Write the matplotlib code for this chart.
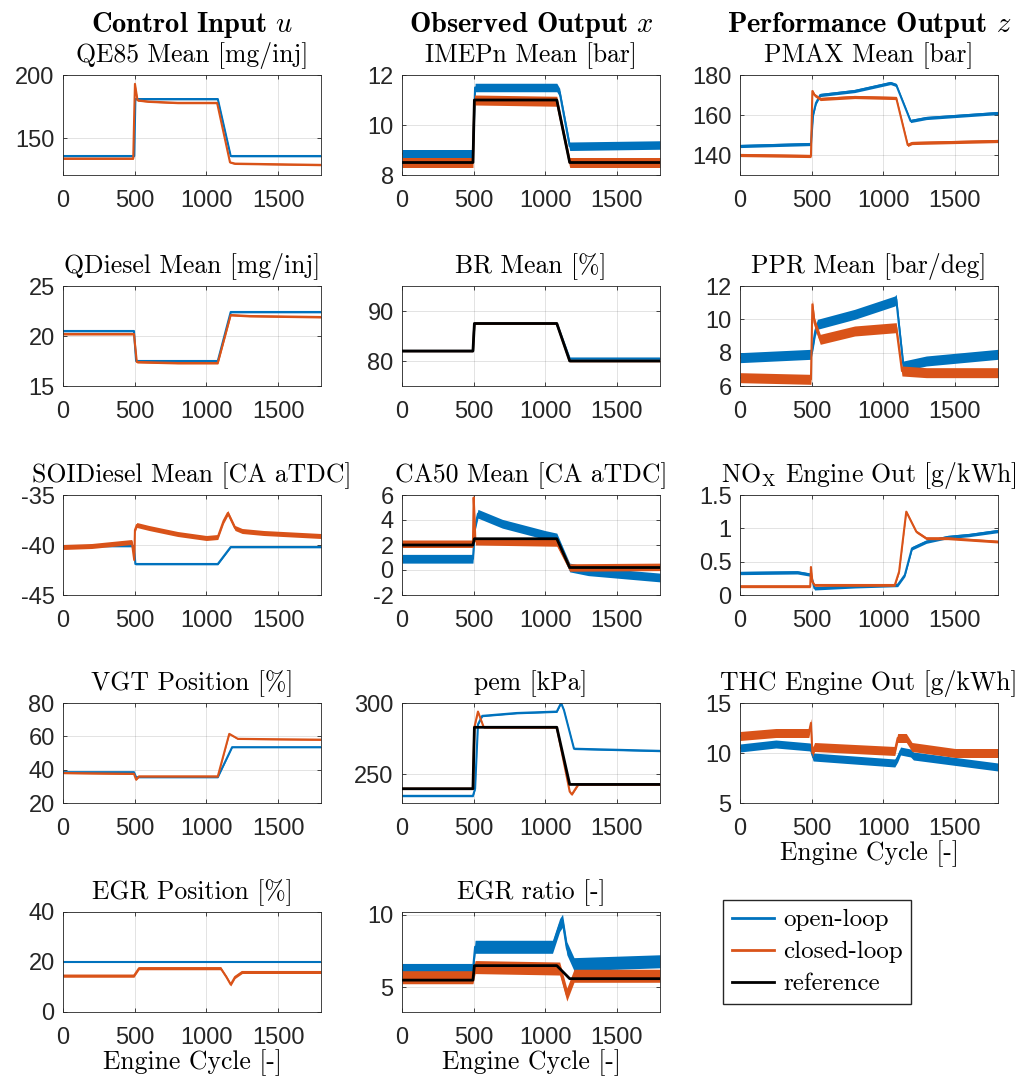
"""Open-loop vs closed-loop engine test: 14 time-series panels."""

import matplotlib
matplotlib.use('Agg')
import matplotlib.pyplot as plt
from matplotlib.lines import Line2D

plt.rcParams['mathtext.fontset'] = 'cm'
plt.rcParams['axes.unicode_minus'] = False
plt.rcParams['font.family'] = ['Liberation Sans', 'DejaVu Sans']

BLUE = '#0072BD'
ORANGE = '#D95319'

# ---- data (cycle knots, values, noise band half-width) ----
ref_x = [0, 495, 505, 1080, 1170, 1800]

# QE85 Mean
qe85_ol_x = [0, 497, 505, 1080, 1170, 1800]
qe85_ol = [136, 136, 181, 181, 136, 136]
qe85_cl_x = [0, 490, 497, 502, 520, 600, 800, 1075, 1165, 1200, 1500, 1800]
qe85_cl = [134, 134, 170, 193, 180, 179, 178, 178, 131, 130, 129.5, 129]

# IMEPn Mean
imep_ref = [8.5, 8.5, 11.0, 11.0, 8.5, 8.5]
imep_ol_x = [0, 495, 510, 1080, 1100, 1170, 1800]
imep_ol = [8.85, 8.85, 11.5, 11.5, 11.3, 9.15, 9.2]
imep_cl_x = [0, 495, 505, 1080, 1170, 1800]
imep_cl = [8.5, 8.5, 11.0, 10.95, 8.5, 8.5]

# PMAX Mean
pmax_ol_x = [0, 495, 510, 530, 560, 800, 1050, 1090, 1190, 1300, 1800]
pmax_ol = [144.5, 145.5, 160, 166, 170, 172, 176, 175, 157, 158.5, 161]
pmax_cl_x = [0, 495, 505, 520, 560, 800, 1090, 1170, 1200, 1800]
pmax_cl = [140, 139.5, 172, 170, 168, 169, 168.5, 145, 146, 147]

# QDiesel Mean
qd_ol_x = [0, 495, 510, 1080, 1170, 1800]
qd_ol = [20.5, 20.5, 17.5, 17.5, 22.4, 22.4]
qd_cl_x = [0, 495, 515, 800, 1080, 1170, 1300, 1800]
qd_cl = [20.2, 20.2, 17.4, 17.3, 17.3, 22.1, 22.0, 21.9]

# BR Mean
br_ref = [82, 82, 87.5, 87.5, 80, 80]
br_ol = [82, 82, 87.5, 87.5, 80.5, 80.5]
br_cl = [82, 82, 87.5, 87.5, 80, 80]

# PPR Mean
ppr_ol_x = [0, 495, 510, 525, 540, 800, 1080, 1090, 1140, 1300, 1800]
ppr_ol = [7.7, 7.9, 8.5, 9.3, 9.7, 10.3, 11.1, 11.2, 7.2, 7.5, 7.9]
ppr_cl_x = [0, 495, 505, 520, 560, 800, 1090, 1130, 1300, 1800]
ppr_cl = [6.5, 6.4, 10.9, 9.8, 8.8, 9.3, 9.5, 6.9, 6.8, 6.8]

# SOIDiesel Mean
soi_ol_x = [0, 495, 505, 1080, 1170, 1800]
soi_ol = [-40.1, -40.1, -41.9, -41.9, -40.2, -40.2]
soi_cl_x = [0, 200, 480, 497, 502, 515, 600, 800, 1000, 1080, 1120, 1150,
            1200, 1250, 1400, 1800]
soi_cl = [-40.2, -40.1, -39.7, -41.5, -38.5, -38.0, -38.3, -38.9, -39.3,
          -39.2, -37.6, -36.8, -38.3, -38.6, -38.8, -39.1]

# CA50 Mean
ca50_ref = [2.0, 2.0, 2.5, 2.5, 0.2, 0.2]
ca50_ol_x = [0, 495, 510, 530, 700, 1000, 1080, 1170, 1300, 1800]
ca50_ol = [0.9, 0.9, 3.5, 4.5, 3.7, 2.8, 2.6, 0.2, -0.1, -0.6]
ca50_cl_x = [0, 495, 500, 505, 512, 1080, 1170, 1800]
ca50_cl = [2.1, 2.1, 5.8, 4.5, 2.3, 2.2, 0.2, 0.25]

# NOx engine out
nox_ol_x = [0, 400, 480, 495, 520, 800, 1100, 1150, 1200, 1300, 1450, 1600, 1800]
nox_ol = [0.33, 0.34, 0.31, 0.30, 0.10, 0.13, 0.15, 0.30, 0.70, 0.80, 0.87, 0.90, 0.96]
nox_cl_x = [0, 490, 495, 505, 520, 1080, 1110, 1160, 1230, 1300, 1450, 1800]
nox_cl = [0.13, 0.13, 0.42, 0.20, 0.15, 0.15, 0.35, 1.25, 0.95, 0.85, 0.85, 0.80]

# VGT Position
vgt_ol_x = [0, 495, 510, 1080, 1180, 1800]
vgt_ol = [38.5, 38.5, 35.5, 35.5, 53.5, 53.5]
vgt_cl_x = [0, 495, 510, 530, 1080, 1160, 1220, 1800]
vgt_cl = [38, 37.5, 34, 36, 36, 61.5, 58.5, 58]

# pem
pem_ref = [240, 240, 283, 283, 243, 243]
pem_ol_x = [0, 495, 510, 530, 560, 800, 1080, 1110, 1130, 1200, 1800]
pem_ol = [235, 235, 240, 285, 291, 293, 294, 300, 295, 268, 266.5]
pem_cl_x = [0, 495, 505, 530, 570, 1080, 1170, 1185, 1230, 1800]
pem_cl = [240, 240, 283, 294, 283, 283, 238, 236, 243, 243]

# THC engine out
thc_ol_x = [0, 250, 490, 510, 1080, 1100, 1120, 1190, 1210, 1800]
thc_ol = [10.5, 10.9, 10.6, 9.6, 9.0, 9.5, 10.2, 10.0, 9.7, 8.6]
thc_cl_x = [0, 250, 480, 495, 505, 520, 1080, 1100, 1160, 1200, 1500, 1800]
thc_cl = [11.7, 12.0, 12.0, 13.0, 10.0, 10.6, 10.2, 11.5, 11.5, 10.6, 10.0, 10.0]

# EGR Position
egrp_ol_x = [0, 1800]
egrp_ol = [20, 20]
egrp_cl_x = [0, 495, 530, 1100, 1140, 1170, 1200, 1250, 1800]
egrp_cl = [14.5, 14.5, 17.5, 17.5, 14, 11, 14, 16, 16]

# EGR ratio
egrr_ref = [5.5, 5.5, 6.5, 6.5, 5.6, 5.6]
egrr_ol_x = [0, 495, 510, 1050, 1100, 1120, 1150, 1200, 1800]
egrr_ol = [6.2, 6.2, 7.8, 7.8, 9.3, 9.6, 7.7, 6.6, 6.8]
egrr_cl_x = [0, 495, 510, 1100, 1150, 1200, 1800]
egrr_cl = [5.7, 5.7, 6.4, 6.3, 4.5, 5.8, 5.8]

# (col, row, title, ylim, yticks, open-loop, closed-loop, reference)
panels = [
    (0, 0, 'QE85 Mean [mg/inj]', (121, 200), [150, 200],
     (qe85_ol_x, qe85_ol, 0.6), (qe85_cl_x, qe85_cl, 0.7), None),
    (0, 1, 'QDiesel Mean [mg/inj]', (15, 25), [15, 20, 25],
     (qd_ol_x, qd_ol, 0.08), (qd_cl_x, qd_cl, 0.1), None),
    (0, 2, 'SOIDiesel Mean [CA aTDC]', (-45, -35), [-45, -40, -35],
     (soi_ol_x, soi_ol, 0.08), (soi_cl_x, soi_cl, 0.25), None),
    (0, 3, 'VGT Position [%]', (20, 80), [20, 40, 60, 80],
     (vgt_ol_x, vgt_ol, 0.3), (vgt_cl_x, vgt_cl, 0.4), None),
    (0, 4, 'EGR Position [%]', (0, 40), [0, 20, 40],
     (egrp_ol_x, egrp_ol, 0.15), (egrp_cl_x, egrp_cl, 0.6), None),
    (1, 0, 'IMEPn Mean [bar]', (8, 12), [8, 10, 12],
     (imep_ol_x, imep_ol, 0.17), (imep_cl_x, imep_cl, 0.2), imep_ref),
    (1, 1, 'BR Mean [%]', (75, 95), [80, 90],
     (ref_x, br_ol, 0.15), (ref_x, br_cl, 0.15), br_ref),
    (1, 2, 'CA50 Mean [CA aTDC]', (-2, 6), [-2, 0, 2, 4, 6],
     (ca50_ol_x, ca50_ol, 0.35), (ca50_cl_x, ca50_cl, 0.3), ca50_ref),
    (1, 3, 'pem [kPa]', (230, 300), [250, 300],
     (pem_ol_x, pem_ol, 0.6), (pem_cl_x, pem_cl, 0.6), pem_ref),
    (1, 4, 'EGR ratio [-]', (3.3, 10.2), [5, 10],
     (egrr_ol_x, egrr_ol, 0.45), (egrr_cl_x, egrr_cl, 0.45), egrr_ref),
    (2, 0, 'PMAX Mean [bar]', (130, 180), [140, 160, 180],
     (pmax_ol_x, pmax_ol, 0.8), (pmax_cl_x, pmax_cl, 0.8), None),
    (2, 1, 'PPR Mean [bar/deg]', (6, 12), [6, 8, 10, 12],
     (ppr_ol_x, ppr_ol, 0.3), (ppr_cl_x, ppr_cl, 0.3), None),
    (2, 2, r'NO$_\mathrm{X}$ Engine Out [g/kWh]', (0, 1.5), [0, 0.5, 1, 1.5],
     (nox_ol_x, nox_ol, 0.025), (nox_cl_x, nox_cl, 0.02), None),
    (2, 3, 'THC Engine Out [g/kWh]', (5, 15), [5, 10, 15],
     (thc_ol_x, thc_ol, 0.4), (thc_cl_x, thc_cl, 0.45), None),
]

headers = [r'Control Input $u$', r'Observed Output $x$', r'Performance Output $z$']
xticks = [0, 500, 1000, 1500]

W, H = 1030, 1079
fig = plt.figure(figsize=(W / 100, H / 100), dpi=100)

col_left = [63, 402, 740]
row_top = [75, 286, 495, 703, 912]
ax_w, ax_h = 258, 100


def draw_series(ax, series, color):
    xs, ys, noise = series
    lo = [v - noise for v in ys]
    hi = [v + noise for v in ys]
    ax.fill_between(xs, lo, hi, color=color, linewidth=0, zorder=2)
    ax.plot(xs, ys, color=color, lw=1.5, zorder=2)


for col, row, title, ylim, yticks, ol, cl, ref in panels:
    left = col_left[col] / W
    bottom = 1 - (row_top[row] + ax_h) / H
    ax = fig.add_axes([left, bottom, ax_w / W, ax_h / H])

    draw_series(ax, ol, BLUE)
    draw_series(ax, cl, ORANGE)
    if ref is not None:
        ax.plot(ref_x, ref, color='black', lw=2, zorder=3)

    ax.set_xlim(0, 1800)
    ax.set_ylim(*ylim)
    ax.set_xticks(xticks)
    ax.set_yticks(yticks)
    ax.set_yticklabels([f'{t:g}' for t in yticks])
    ax.grid(True, color='#262626', alpha=0.15, lw=0.6)
    ax.set_axisbelow(True)
    ax.tick_params(direction='in', length=3, width=0.6, labelsize=17,
                   colors='#262626', top=True, right=True)
    ax.tick_params(axis='x', pad=11)
    ax.tick_params(axis='y', pad=6)
    for sp in ax.spines.values():
        sp.set_color('#262626')
        sp.set_linewidth(0.6)
    ax.set_title(title, fontsize=18.5, family='cmr10', pad=9.5)

    if row == 0:
        fig.text((col_left[col] + ax_w / 2) / W, 1 - 32 / H, headers[col],
                 ha='center', va='baseline', fontsize=20.5, family='cmb10')
    if (col < 2 and row == 4) or (col == 2 and row == 3):
        ax.set_xlabel('Engine Cycle [-]', fontsize=18.5, family='cmr10',
                      labelpad=0)

handles = [
    Line2D([], [], color=BLUE, lw=2, label='open-loop'),
    Line2D([], [], color=ORANGE, lw=2, label='closed-loop'),
    Line2D([], [], color='black', lw=2, label='reference'),
]
fig.legend(handles=handles, loc='upper left',
           bbox_to_anchor=(723 / W, 1 - 900 / H), borderaxespad=0,
           prop={'family': 'cmr10', 'size': 18}, frameon=True, fancybox=False,
           edgecolor='#262626', framealpha=1, handlelength=1.7,
           borderpad=0.35, labelspacing=0.38, handletextpad=0.35)

fig.savefig('out.png', dpi=100)
plt.close(fig)
